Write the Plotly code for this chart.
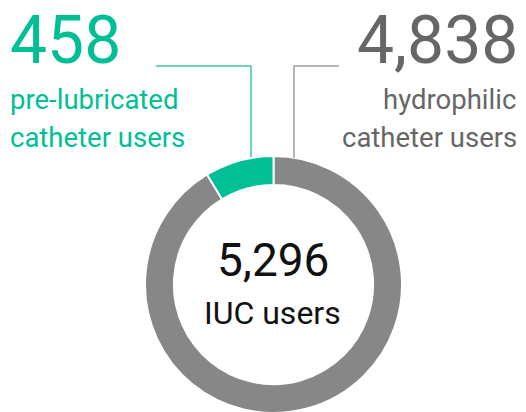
import plotly.graph_objects as go

W, H = 526, 412
OFF = 8  # page body margin offset

labels = ["pre-lubricated catheter users", "hydrophilic catheter users"]
label_lines = [["pre-lubricated", "catheter users"], ["hydrophilic", "catheter users"]]
values = [458, 4838]
colors = ["#00BF94", "#878787"]
text_colors = ["#00BF94", "#666666"]
line_colors = ["#3CC9A6", "#A0A0A0"]
center_label = "IUC users"
total = sum(values)

FONT = "Roboto"


def px(x):
    return (x - OFF) / W


def py(y):
    return 1 - (y - OFF) / H


# Plotly places the first slice clockwise from 12 o'clock; the reference has the
# small slice just counterclockwise of 12, so the trace order is reversed.
fig = go.Figure(
    go.Pie(
        labels=labels[::-1],
        values=values[::-1],
        sort=False,
        direction="counterclockwise",
        rotation=0,
        hole=0.775,
        textinfo="none",
        hoverinfo="skip",
        marker=dict(colors=colors[::-1], line=dict(color="white", width=2)),
        domain=dict(x=[px(145), px(402)], y=[py(413), py(156)]),
        showlegend=False,
    )
)

ann = []
# left block
ann.append(dict(x=px(8), y=py(40), xanchor="left", yanchor="middle", height=66,
                text=f"{values[0]:,}", font=dict(size=66, color=text_colors[0], family=FONT)))
ann.append(dict(x=px(8), y=py(99), xanchor="left", yanchor="middle",
                text=label_lines[0][0], font=dict(size=27.5, color=text_colors[0], family=FONT)))
ann.append(dict(x=px(8), y=py(137), xanchor="left", yanchor="middle",
                text=label_lines[0][1], font=dict(size=27.5, color=text_colors[0], family=FONT)))
# right block
ann.append(dict(x=px(520), y=py(40), xanchor="right", yanchor="middle", height=66,
                text=f"{values[1]:,}", font=dict(size=66, color=text_colors[1], family=FONT)))
ann.append(dict(x=px(518), y=py(99), xanchor="right", yanchor="middle",
                text=label_lines[1][0], font=dict(size=27.5, color=text_colors[1], family=FONT)))
ann.append(dict(x=px(519), y=py(137), xanchor="right", yanchor="middle",
                text=label_lines[1][1], font=dict(size=27.5, color=text_colors[1], family=FONT)))
# center
ann.append(dict(x=px(273), y=py(260), xanchor="center", yanchor="middle",
                text=f"{total:,}", font=dict(size=46, color="#111111", family=FONT)))
ann.append(dict(x=px(272), y=py(313), xanchor="center", yanchor="middle",
                text=center_label, font=dict(size=32, color="#111111", family=FONT)))
for a in ann:
    a.update(xref="paper", yref="paper", showarrow=False)

shapes = [
    dict(type="path", xref="paper", yref="paper",
         path=f"M {px(156)},{py(66)} L {px(251)},{py(66)} L {px(251)},{py(157)}",
         line=dict(color=line_colors[0], width=1.5)),
    dict(type="path", xref="paper", yref="paper",
         path=f"M {px(294)},{py(158)} L {px(294)},{py(66)} L {px(339)},{py(66)}",
         line=dict(color=line_colors[1], width=1.5)),
]

fig.update_layout(
    width=W, height=H,
    margin=dict(l=0, r=0, t=0, b=0),
    paper_bgcolor="white",
    plot_bgcolor="white",
    annotations=ann,
    shapes=shapes,
)

fig.write_html("out.html", config={"displayModeBar": False})
